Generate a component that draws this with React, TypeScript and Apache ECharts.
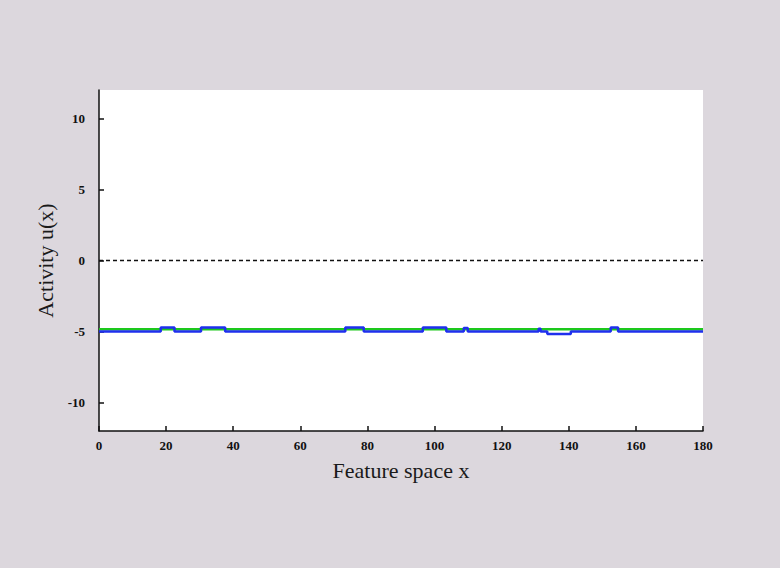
import React, { useEffect, useRef } from "react";
import * as echarts from "echarts";

const xTicks = [0, 20, 40, 60, 80, 100, 120, 140, 160, 180];
const yTicks = [-10, -5, 0, 5, 10];

// activity u(x) (blue), step profile
const activityU: [number, number][] = [
  [0, -5], [18.4, -5], [18.4, -4.72], [22.5, -4.72], [22.5, -5],
  [30.4, -5], [30.4, -4.72], [37.6, -4.72], [37.6, -5],
  [73.4, -5], [73.4, -4.72], [78.9, -4.72], [78.9, -5],
  [96.5, -5], [96.5, -4.72], [103.5, -4.72], [103.5, -5],
  [108.7, -5], [108.7, -4.75], [109.9, -4.75], [109.9, -5],
  [131, -5], [131, -4.8], [131.6, -4.8], [131.6, -5],
  [133.6, -5], [133.6, -5.17], [140.6, -5.17], [140.6, -5],
  [152.5, -5], [152.5, -4.72], [154.7, -4.72], [154.7, -5],
  [180, -5],
];

// resting level (green)
const restingLevel: [number, number][] = [[0, -4.83], [180, -4.83]];

// zero line (dashed black)
const zeroLine: [number, number][] = [[0, 0], [180, 0]];

export default function App() {
  const ref = useRef<HTMLDivElement>(null);
  useEffect(() => {
    if (!ref.current) return;
    const chart = echarts.init(ref.current, null, { renderer: "svg" });
    const font = "Liberation Serif";
    chart.setOption({
      animation: false,
      backgroundColor: "#dcd7dd",
      grid: {
        left: 99,
        right: 77,
        top: 90,
        bottom: 137,
        show: true,
        backgroundColor: "#ffffff",
        borderWidth: 0,
      },
      xAxis: {
        type: "value",
        min: 0,
        max: 180,
        interval: 20,
        name: "Feature space x",
        nameLocation: "middle",
        nameGap: 28,
        nameTextStyle: { fontFamily: font, fontSize: 22, color: "#1a1a1a" },
        axisLine: { show: true, onZero: false, lineStyle: { color: "#111", width: 1.5 } },
        axisTick: { show: true, inside: true, length: 5, lineStyle: { color: "#111", width: 1.5 } },
        axisLabel: { fontFamily: font, fontSize: 13, color: "#111", margin: 8, fontWeight: "bold" },
        splitLine: { show: false },
      },
      yAxis: {
        type: "value",
        min: -12,
        max: 12,
        name: "Activity u(x)",
        nameLocation: "middle",
        nameGap: 36,
        nameRotate: 90,
        nameTextStyle: { fontFamily: font, fontSize: 22, color: "#1a1a1a" },
        axisLine: { show: true, onZero: false, lineStyle: { color: "#111", width: 1.5 } },
        axisTick: {
          show: true,
          inside: true,
          length: 5,
          customValues: yTicks,
          lineStyle: { color: "#111", width: 1.5 },
        },
        axisLabel: {
          fontFamily: font,
          fontSize: 13,
          color: "#111",
          margin: 14,
          fontWeight: "bold",
          customValues: yTicks,
        },
        splitLine: { show: false },
      },
      series: [
        {
          type: "line",
          data: zeroLine,
          symbol: "none",
          lineStyle: { color: "#111", width: 1.5, type: [4, 3] },
          z: 2,
        },
        {
          type: "line",
          data: restingLevel,
          symbol: "none",
          lineStyle: { color: "#1dc81d", width: 2.5 },
          z: 3,
        },
        {
          type: "line",
          data: activityU,
          symbol: "none",
          lineStyle: { color: "#1f2fee", width: 2.5 },
          z: 4,
        },
      ],
    });
    return () => chart.dispose();
  }, []);
  return (
    <div
      ref={ref}
      style={{ position: "absolute", left: 0, top: 0, width: 780, height: 568 }}
    />
  );
}
